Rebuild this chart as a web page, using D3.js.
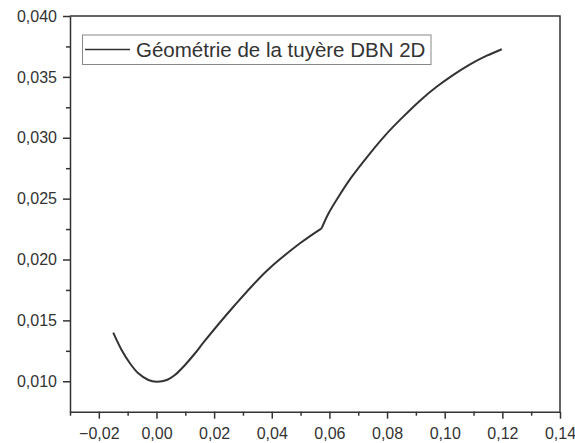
<!DOCTYPE html>
<html>
<head>
<meta charset="utf-8">
<script src="https://cdn.jsdelivr.net/npm/d3@7"></script>
<style>
  html, body { margin: 0; padding: 0; background: #fff; }
  svg { display: block; font-family: "Liberation Sans", Arial, sans-serif; }
</style>
</head>
<body>
<svg id="chart" width="575" height="443"></svg>
<script>
// Nozzle contour, section from inlet through the throat to the wall break point
const sectionA = [
  [-0.0150, 0.01399], [-0.0121, 0.01257], [-0.0092, 0.01148], [-0.0063, 0.01065],
  [-0.0028, 0.01010], [0.0000, 0.00996], [0.0036, 0.01010], [0.0064, 0.01051],
  [0.0099, 0.01134], [0.0134, 0.01230], [0.0166, 0.01327], [0.0267, 0.01612],
  [0.0383, 0.01908], [0.0498, 0.02133], [0.0573, 0.02256]
];
// Contour from the break point to the exit
const sectionB = [
  [0.0573, 0.02256], [0.0595, 0.02370], [0.0630, 0.02509], [0.0676, 0.02674],
  [0.0734, 0.02852], [0.0792, 0.03016], [0.0850, 0.03159], [0.0919, 0.03315],
  [0.0972, 0.03419], [0.1030, 0.03517], [0.1088, 0.03603], [0.1146, 0.03674],
  [0.1198, 0.03727]
];

const xTicks = [-0.02, 0.00, 0.02, 0.04, 0.06, 0.08, 0.10, 0.12, 0.14];
const xMinorTicks = [-0.03, -0.01, 0.01, 0.03, 0.05, 0.07, 0.09, 0.11, 0.13];
const yTicks = [0.010, 0.015, 0.020, 0.025, 0.030, 0.035, 0.040];
const yMinorTicks = [0.0125, 0.0175, 0.0225, 0.0275, 0.0325, 0.0375];
const legendLabel = "Géométrie de la tuyère DBN 2D";

const svg = d3.select("#chart");
const plot = { left: 70, right: 560, top: 16, bottom: 411.7 };
const ink = "#333";

const x = d3.scaleLinear().domain([-0.03, 0.14]).range([plot.left, plot.right]);
const y = d3.scaleLinear().domain([0.0075, 0.040]).range([plot.bottom, plot.top]);

const comma = fmt => v => d3.format(fmt)(v).replace(".", ",");

// Frame (top and right edges)
svg.append("path")
  .attr("d", `M${plot.left},${plot.top}H${plot.right}V${plot.bottom}`)
  .attr("fill", "none").attr("stroke", ink).attr("stroke-width", 1.5);

function styleAxis(g) {
  g.selectAll(".domain").attr("stroke", ink).attr("stroke-width", 1.5);
  g.selectAll(".tick line").attr("stroke", ink).attr("stroke-width", 1.5);
  g.selectAll(".tick text").attr("fill", ink).style("font-size", "16px")
    .style("font-family", "'Liberation Sans', Arial, sans-serif");
}

// Minor ticks
svg.append("g").attr("transform", `translate(0,${plot.bottom})`)
  .call(d3.axisBottom(x).tickValues(xMinorTicks).tickSize(4).tickFormat(""))
  .call(g => { g.select(".domain").remove(); g.selectAll("line").attr("stroke", ink).attr("stroke-width", 1.5); });
svg.append("g").attr("transform", `translate(${plot.left},0)`)
  .call(d3.axisLeft(y).tickValues(yMinorTicks).tickSize(4).tickFormat(""))
  .call(g => { g.select(".domain").remove(); g.selectAll("line").attr("stroke", ink).attr("stroke-width", 1.5); });

// Major axes
svg.append("g").attr("transform", `translate(0,${plot.bottom})`)
  .call(d3.axisBottom(x).tickValues(xTicks).tickSize(7).tickSizeOuter(0).tickPadding(9).tickFormat(comma(".2f")))
  .call(styleAxis);
svg.append("g").attr("transform", `translate(${plot.left},0)`)
  .call(d3.axisLeft(y).tickValues(yTicks).tickSize(7).tickSizeOuter(0).tickPadding(6).tickFormat(comma(".3f")))
  .call(styleAxis);

// Contour: two smooth sections meeting at a corner
const line = d3.line().x(d => x(d[0])).y(d => y(d[1])).curve(d3.curveCatmullRom.alpha(0.5));
[sectionA, sectionB].forEach(sec => {
  svg.append("path").datum(sec)
    .attr("d", line)
    .attr("fill", "none").attr("stroke", ink).attr("stroke-width", 2)
    .attr("stroke-linejoin", "round");
});

// Legend
const lg = svg.append("g");
lg.append("rect").attr("x", 82.5).attr("y", 35).attr("width", 348.5).attr("height", 29.5)
  .attr("fill", "#fff").attr("stroke", "#888").attr("stroke-width", 1);
lg.append("line").attr("x1", 85).attr("x2", 130).attr("y1", 49.5).attr("y2", 49.5)
  .attr("stroke", ink).attr("stroke-width", 1.5);
lg.append("text").attr("x", 136).attr("y", 56.5).attr("fill", ink)
  .style("font-size", "20.5px").text(legendLabel);
</script>
</body>
</html>
